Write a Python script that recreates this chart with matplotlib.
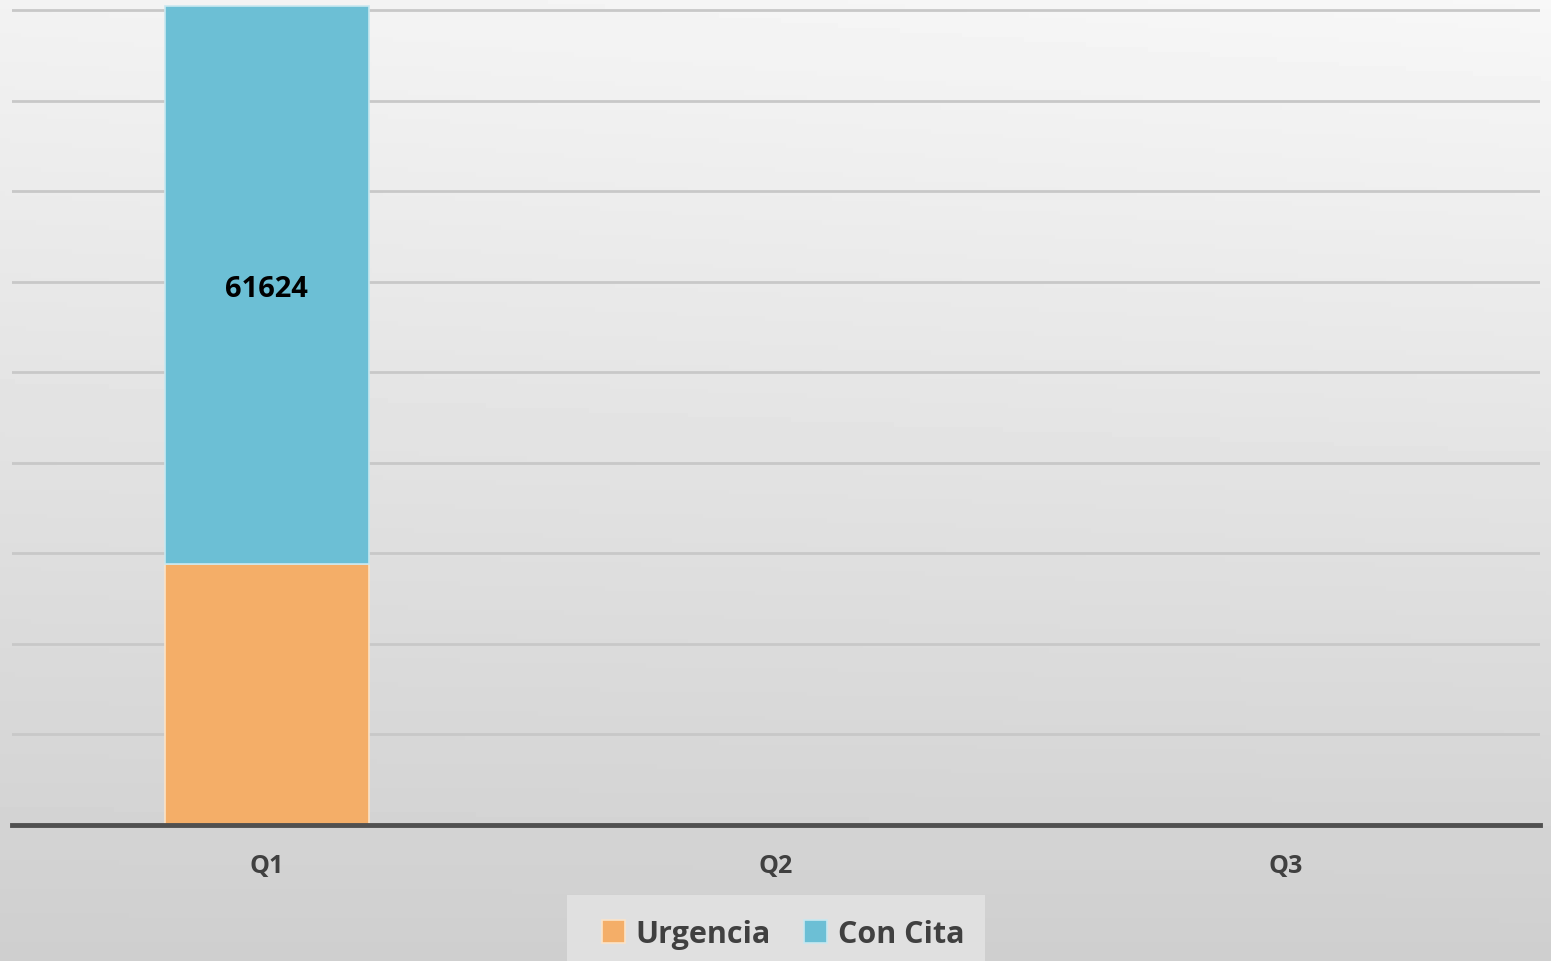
import matplotlib.pyplot as plt
from matplotlib.patches import Rectangle
import numpy as np

# data
trimestres = ['Q1', 'Q2', 'Q3']
urgencia = [28850, 0, 0]
con_cita = [61624, 0, 0]
etiquetas = ['61624', '', '']

W, H = 1551, 962
fig = plt.figure(figsize=(W / 100, H / 100), dpi=100)

# fondo con degradado gris
bg = fig.add_axes([0, 0, 1, 1], zorder=-10)
yy, xx = np.mgrid[0:1:200j, 0:1:300j]
grad = 0.95 - 0.14 * yy + 0.02 * xx * (1 - yy)
bg.imshow(grad, cmap='gray', vmin=0, vmax=1, aspect='auto', extent=[0, 1, 1, 0])
bg.set_axis_off()

ax = fig.add_axes([12 / W, (H - 826) / H, (1540 - 12) / W, (826 - 5) / H])
ax.patch.set_alpha(0)

x = np.arange(len(trimestres))
ancho = 0.4
b1 = ax.bar(x, urgencia, ancho, color='#f4ae68', edgecolor='#fbe3c8', linewidth=1.2,
            label='Urgencia', zorder=3)
b2 = ax.bar(x, con_cita, ancho, bottom=urgencia, color='#6cbfd5', edgecolor='#c9e8f0',
            linewidth=1.2, label='Con Cita', zorder=3)

for i, t in enumerate(etiquetas):
    if t:
        ax.text(x[i], urgencia[i] + con_cita[i] / 2 - 400, t, ha='center', va='center',
                fontsize=21, fontweight='bold', family='Open Sans', color='black', zorder=4)

ax.set_xlim(-0.5, 2.5)
ax.set_ylim(0, 90663)
ax.set_yticks(np.arange(10000, 90001, 10000))
ax.yaxis.grid(True, color='#c8c8c8', linewidth=2, zorder=1)
ax.tick_params(axis='y', left=False, labelleft=False)
ax.tick_params(axis='x', bottom=False, pad=17)
ax.set_xticks(x)
ax.set_xticklabels(trimestres, fontsize=18, fontweight='bold', family='Open Sans', color='#404040')
for s in ['top', 'right', 'left']:
    ax.spines[s].set_visible(False)
ax.spines['bottom'].set_color('#505050')
ax.spines['bottom'].set_linewidth(3.5)
ax.spines['bottom'].set_zorder(5)

# caja de la leyenda
fig.patches.append(Rectangle((567 / W, 0), (985 - 567) / W, (H - 896) / H,
                             transform=fig.transFigure, facecolor='#e0e0e0',
                             edgecolor='none', zorder=1))

leg = fig.legend(handles=[b1, b2], loc='center', bbox_to_anchor=(783 / W, (H - 935) / H),
                 ncol=2, frameon=False, handlelength=0.75, handleheight=0.75,
                 handletextpad=0.35, columnspacing=1.1, borderpad=0.2,
                 prop={'family': 'Open Sans', 'weight': 'bold', 'size': 22})
for t in leg.get_texts():
    t.set_color('#404040')

fig.savefig('out.png', dpi=100)
